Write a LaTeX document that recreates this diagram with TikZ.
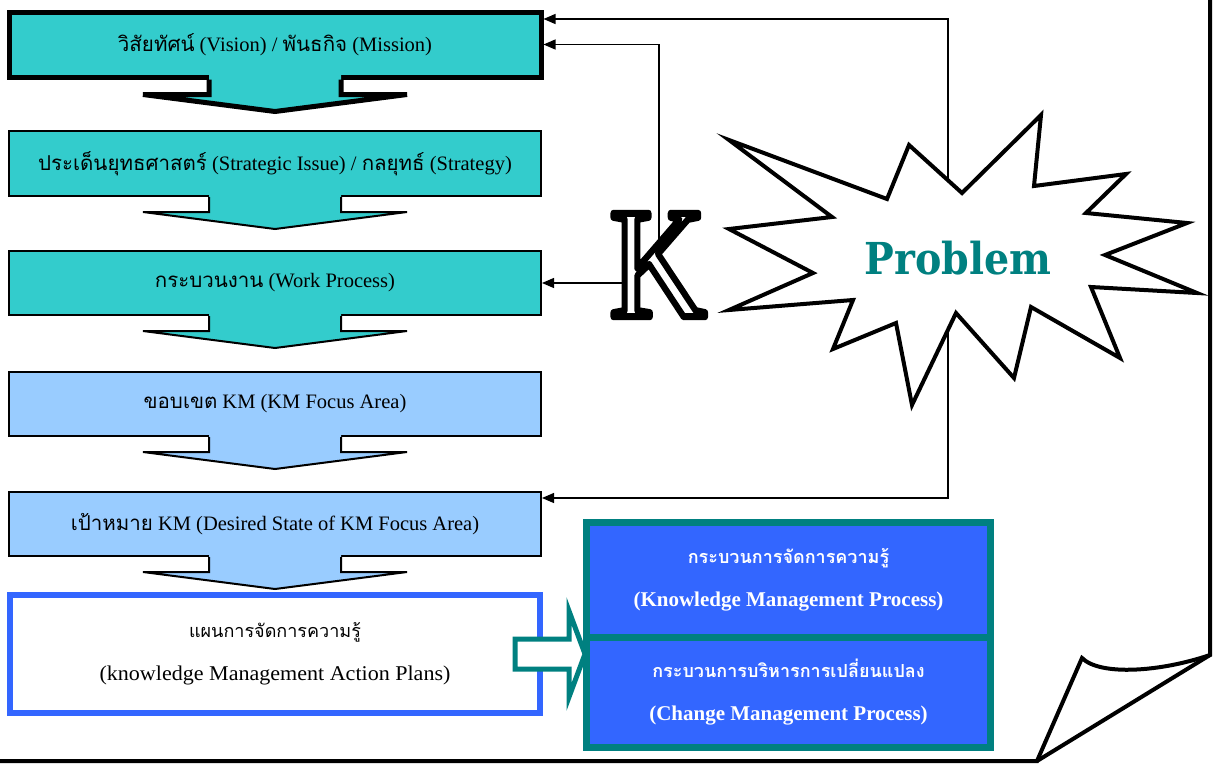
\documentclass[tikz,border=0pt]{standalone}
\usepackage{fontspec}
\setmainfont{Liberation Serif}
\newfontfamily\thaifont[Script=Thai]{Loma}
\newfontfamily\probfont{DejaVu Serif}
\usepackage{graphicx}
\usetikzlibrary{arrows.meta,calc}
\definecolor{cyanbox}{HTML}{33CCCC}
\definecolor{lightbox}{HTML}{99CCFF}
\definecolor{kmblue}{HTML}{3366FF}
\definecolor{kmteal}{HTML}{008080}
\newcommand{\thaitxt}[1]{{\thaifont #1}}
\newcommand{\thaismall}[1]{{\thaifont\fontsize{18}{43}\selectfont #1}}
% hollow letter: white fill, black stroke
\newcommand{\hollow}[1]{\special{pdf:literal direct 2 Tr 7 w 1 j 0 0 0 RG 1 1 1 rg}#1\special{pdf:literal direct 0 Tr 0 j 0 0 0 rg}}

\begin{document}
\begin{tikzpicture}[x=1pt,y=-1pt,
    box/.style={draw, line width=2pt, minimum width=532pt, minimum height=64pt,
      inner sep=0pt, font=\fontsize{20.5}{24}\selectfont},
    procbox/.style={draw=kmteal, fill=kmblue, line width=7pt, minimum width=404pt,
      text=white, align=center, font=\bfseries\fontsize{21}{43}\selectfont},
    conn/.style={line width=1.2pt, -{Triangle[length=12pt,width=10pt]}}]
  \useasboundingbox (0,0) rectangle (1218,763);

  % page with curled corner
  \draw[line width=4pt, line join=miter] (1210,0) -- (1210,655)
    .. controls (1160,672) and (1100,676) .. (1082,658) -- (1037,761) -- (0,761);
  \draw[line width=4pt] (1210,655) -- (1037,761);

  % steps
  \node[box, fill=cyanbox, line width=5pt, minimum height=65pt] (vis) at (275,44.5)
    {\thaitxt{วิสัยทัศน์} (Vision) / \thaitxt{พันธกิจ} (Mission)};
  \node[box, fill=cyanbox, minimum height=65pt] (str) at (275,163.5)
    {\thaitxt{ประเด็นยุทธศาสตร์} (Strategic Issue) / \thaitxt{กลยุทธ์} (Strategy)};
  \node[box, fill=cyanbox] (wp) at (275,283) {\thaitxt{กระบวนงาน} (Work Process)};
  \node[box, fill=lightbox] (fa) at (275,404) {\thaitxt{ขอบเขต} KM (KM Focus Area)};
  \node[box, fill=lightbox] (ds) at (275,524)
    {\thaitxt{เป้าหมาย} KM (Desired State of KM Focus Area)};
  \node[box, draw=kmblue, line width=6pt, minimum width=530pt, minimum height=118pt,
    align=center, font=\fontsize{21}{43}\selectfont] (ap) at (275,654)
    {\thaismall{แผนการจัดการความรู้}\\\scalebox{1.05}[1]{(knowledge Management Action Plans)}};

  % arrows between steps
  \foreach \bx/\c/\w in {vis/cyanbox/5, str/cyanbox/2, wp/cyanbox/2, fa/lightbox/2, ds/lightbox/2} {
    \fill[\c] ($(\bx.south)+(-66,-6)$) -- ++(0,21) -- ++(-66,0) -- ($(\bx.south)+(0,32)$)
      -- ($(\bx.south)+(132,15)$) -- ++(-66,0) -- ++(0,-21) -- cycle;
    \draw[line width=\w pt] ($(\bx.south)+(-66,0)$) -- ++(0,15) -- ++(-66,0)
      -- ($(\bx.south)+(0,32)$) -- ($(\bx.south)+(132,15)$) -- ++(-66,0) -- ++(0,-15);
  }

  % block arrow to the processes
  \filldraw[draw=kmteal, fill=white, line width=5pt] ($(ap.east)+(-28,-15)$) -- ++(54,0)
    -- ++(0,-28) -- ($(ap.east)+(42,0)$) -- ($(ap.east)+(26,43)$) -- ++(0,-28)
    -- ++(-54,0) -- cycle;

  \node[procbox, minimum height=115pt] (kmp) at (788.5,580)
    {\thaismall{กระบวนการจัดการความรู้}\\(Knowledge Management Process)};
  \node[procbox, minimum height=110pt] (cmp) at (788.5,692)
    {\thaismall{กระบวนการบริหารการเปลี่ยนแปลง}\\(Change Management Process)};

  % feedback lines
  \coordinate (sa) at (948,250);
  \coordinate (ka) at (659,262);
  \coordinate (kb) at (635,283);
  \draw[conn] (sa) |- ([yshift=25.5pt]vis.east);
  \draw[conn] (ka) |- (vis.east);
  \draw[conn] (kb) -- (wp.east);
  \draw[conn] (sa) |- ([yshift=26pt]ds.east);

  % problem burst
  \filldraw[fill=white, line width=4pt, line join=miter] (729,140) -- (887,199) -- (909,145)
    -- (962,193) -- (1041,115) -- (1034,186) -- (1126,174) -- (1086,213) -- (1187,223)
    -- (1105,255) -- (1197,293) -- (1091,287) -- (1120,358) -- (1031,307) -- (1014,378)
    -- (956,313) -- (912,405) -- (896,323) -- (833,349) -- (853,300) -- (729,310)
    -- (813,273) -- (729,229) -- (832,217) -- cycle;
  \node[text=kmteal, font=\probfont\bfseries\fontsize{44}{50}\selectfont] (prob) at (958,258)
    {\scalebox{0.9}[1]{Problem}};

  \node[inner sep=0pt, font=\fontsize{158}{158}\selectfont] (k) at (658,265)
    {\scalebox{0.85}[1]{\hollow{K}}};
\end{tikzpicture}
\end{document}
